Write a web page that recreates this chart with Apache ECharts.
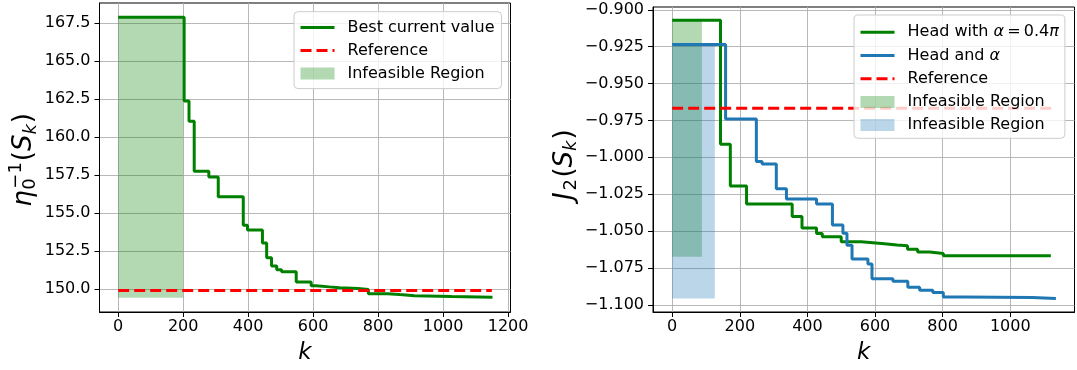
<!DOCTYPE html>
<html><head><meta charset="utf-8">
<script src="https://cdn.jsdelivr.net/npm/echarts@6/dist/echarts.min.js"></script>
<style>html,body{margin:0;padding:0;background:#fff}#c{width:1077px;height:370px}</style>
</head><body><div id="c"></div>
<script>
// ---------------- DATA ----------------
// Left panel: best current value of eta_0^{-1}(S_k)
const leftBestK   = [0, 203, 218, 234, 279, 308, 385, 398, 444, 457, 472, 488, 503, 548, 594, 609, 650, 682, 738, 770, 830, 867, 912, 1026, 1152];
const leftBestVal = [167.88, 162.37, 161.03, 157.74, 157.36, 156.07, 154.19, 153.87, 153.02, 152.05, 151.50, 151.26, 151.12, 150.45, 150.21, 150.13, 150.07, 150.02, 149.95, 149.68, 149.62, 149.55, 149.50, 149.45, 149.45];
const leftRefK = [0, 1150];
const leftRefVal = [149.89, 149.89];
const leftInfK = [0, 200];
const leftInfVal = [149.42, 167.88];
const leftXTicks = [0, 200, 400, 600, 800, 1000, 1200];
const leftYTicks = [150, 152.5, 155, 157.5, 160, 162.5, 165, 167.5];

// Right panel: J_2(S_k)
const rightGreenK   = [0, 143, 172, 220, 355, 384, 427, 444, 500, 559, 620, 665, 696, 726, 761, 802, 1120];
const rightGreenVal = [-0.9071, -0.9912, -1.0195, -1.0317, -1.0401, -1.0479, -1.0517, -1.0539, -1.0573, -1.0585, -1.0595, -1.0600, -1.0624, -1.0642, -1.0652, -1.0668, -1.0672];
const rightBlueK   = [0, 158, 249, 266, 308, 338, 427, 474, 505, 517, 532, 579, 591, 653, 697, 732, 771, 802, 862, 1065, 1135];
const rightBlueVal = [-0.9236, -0.9741, -1.0028, -1.0046, -1.0213, -1.0283, -1.0317, -1.0459, -1.0515, -1.0597, -1.0690, -1.0724, -1.0824, -1.0840, -1.0882, -1.0902, -1.0917, -1.0947, -1.0951, -1.0957, -1.0957];
const rightRefK = [0, 1133];
const rightRefVal = [-0.9667, -0.9667];
const rightGreenInfK = [0, 88];
const rightGreenInfVal = [-1.0675, -0.9071];
const rightBlueInfK = [0, 126];
const rightBlueInfVal = [-1.0957, -0.9236];
const rightXTicks = [0, 200, 400, 600, 800, 1000];
const rightYTicks = [-1.1, -1.075, -1.05, -1.025, -1.0, -0.975, -0.95, -0.925, -0.9];

// ---------------- CHART ----------------
const FONT = 'DejaVu Sans';
const zip = (a, b) => a.map((v, i) => [v, b[i]]);

function rectRender(params, api) {
  const a = api.coord([api.value(0), api.value(2)]);
  const b = api.coord([api.value(1), api.value(3)]);
  return {
    type: 'rect',
    shape: { x: Math.min(a[0], b[0]), y: Math.min(a[1], b[1]), width: Math.abs(b[0] - a[0]), height: Math.abs(b[1] - a[1]) },
    style: { fill: api.visual('color') }
  };
}

function xAxisCfg(gi, min, max, ticks) {
  return {
    type: 'value', gridIndex: gi, min: min, max: max,
    axisLine: { show: true, onZero: false, lineStyle: { color: '#000', width: 1 } },
    axisTick: { show: true, inside: false, length: 5, customValues: ticks, lineStyle: { color: '#000', width: 1 } },
    axisLabel: { show: true, customValues: ticks, margin: 7, fontSize: 16, fontFamily: FONT, color: '#000', formatter: v => String(v) },
    splitLine: { show: true, lineStyle: { color: '#b0b0b0', width: 0.9 } },
    name: 'k', nameLocation: 'middle', nameGap: 30,
    nameTextStyle: { fontSize: 23, fontStyle: 'italic', fontFamily: FONT, color: '#000' }
  };
}
function yAxisCfg(gi, min, max, ticks, fmt) {
  return {
    type: 'value', gridIndex: gi, min: min, max: max,
    axisLine: { show: true, onZero: false, lineStyle: { color: '#000', width: 1 } },
    axisTick: { show: true, inside: false, length: 5, customValues: ticks, lineStyle: { color: '#000', width: 1 } },
    axisLabel: { show: true, customValues: ticks, margin: 9, fontSize: 16, fontFamily: FONT, color: '#000', formatter: fmt },
    splitLine: { show: true, lineStyle: { color: '#b0b0b0', width: 0.9 } }
  };
}

const nameMap = {
  'Reference L': 'Reference', 'Reference R': 'Reference',
  'Infeasible L': 'Infeasible Region', 'Infeasible RG': 'Infeasible Region', 'Infeasible RB': 'Infeasible Region',
  'Head with α = 0.4π': 'Head with {i|α}\u2009=\u20090.4{i|π}',
  'Head and α': 'Head and {i|α}'
};
const legendText = {
  fontSize: 16, fontFamily: FONT, color: '#000', lineHeight: 16, padding: [0, 0, 0, 8],
  rich: { i: { fontSize: 16, fontFamily: FONT, fontStyle: 'italic', color: '#000', lineHeight: 16 } }
};
function legendCfg(left, top, data, gap, pad) {
  return {
    orient: 'vertical', left: left, top: top, itemWidth: 34, itemHeight: 12, itemGap: gap,
    padding: pad, backgroundColor: 'rgba(255,255,255,0.8)', borderColor: '#cccccc', borderWidth: 1, borderRadius: 4,
    selectedMode: false, itemStyle: { opacity: 0 }, lineStyle: { width: 3 }, z: 10,
    textStyle: legendText,
    formatter: n => nameMap[n] || n,
    data: data
  };
}
const fillItem = n => ({ name: n, icon: 'rect', itemStyle: { opacity: 1 } });

function mathPieces(pieces) {
  return pieces.map(p => ({
    type: 'text', x: p.x, y: p.b - 0.346 * p.s,
    style: { text: p.t, fontSize: p.s, fontFamily: FONT, fontStyle: p.it ? 'italic' : 'normal', fill: '#000', align: 'left', verticalAlign: 'middle' }
  }));
}

const F = 26, S = 18;
const leftLabel = {
  type: 'group', x: 33.3, y: 206.7, rotation: Math.PI / 2, silent: true,
  children: mathPieces([
    { t: 'η', s: F, it: true, x: 0, b: 0 },
    { t: '\u22121', s: S, it: false, x: 18, b: -10.3 },
    { t: '0', s: S, it: false, x: 17, b: 3.5 },
    { t: '(', s: F, it: false, x: 45.5, b: 0 },
    { t: 'S', s: F, it: true, x: 55.6, b: 0 },
    { t: 'k', s: S, it: true, x: 72.1, b: 3.8 },
    { t: ')', s: F, it: false, x: 83.5, b: 0 }
  ])
};
const rightLabel = {
  type: 'group', x: 573.9, y: 200, rotation: Math.PI / 2, silent: true,
  children: mathPieces([
    { t: 'J', s: F, it: true, x: 0, b: 0 },
    { t: '2', s: S, it: false, x: 9.5, b: 3.8 },
    { t: '(', s: F, it: false, x: 22.4, b: 0 },
    { t: 'S', s: F, it: true, x: 32.5, b: 0 },
    { t: 'k', s: S, it: true, x: 49, b: 3.8 },
    { t: ')', s: F, it: false, x: 60.4, b: 0 }
  ])
};

const option = {
  animation: false,
  backgroundColor: '#ffffff',
  textStyle: { fontFamily: FONT },
  grid: [
    { left: 99.5, top: 3, width: 411, height: 315, show: true, borderColor: '#000', borderWidth: 1, containLabel: false },
    { left: 653, top: 7, width: 421.5, height: 310, show: true, borderColor: '#000', borderWidth: 1, containLabel: false }
  ],
  xAxis: [
    xAxisCfg(0, -57.5, 1207.5, leftXTicks),
    xAxisCfg(1, -56.7, 1190, rightXTicks)
  ],
  yAxis: [
    yAxisCfg(0, 148.475, 168.825, leftYTicks, v => v.toFixed(1)),
    yAxisCfg(1, -1.1049, -0.8981, rightYTicks, v => (v < 0 ? '\u2212' : '') + Math.abs(v).toFixed(3))
  ],
  legend: [
    legendCfg(294, 11.7, ['Best current value', 'Reference L', fillItem('Infeasible L')], 7, [7.9, 7, 7, 5]),
    legendCfg(854, 15, ['Head with α = 0.4π', 'Head and α', 'Reference R', fillItem('Infeasible RG'), fillItem('Infeasible RB')], 7.2, [9.3, 6, 5.2, 5])
  ],
  graphic: { elements: [leftLabel, rightLabel] },
  series: [
    // left panel
    { type: 'custom', name: 'Infeasible L', xAxisIndex: 0, yAxisIndex: 0, z: 1, silent: true,
      itemStyle: { color: 'rgba(0,128,0,0.3)' }, renderItem: rectRender, encode: { x: [0, 1], y: [2, 3] },
      data: [[leftInfK[0], leftInfK[1], leftInfVal[0], leftInfVal[1]]] },
    { type: 'line', name: 'Best current value', xAxisIndex: 0, yAxisIndex: 0, step: 'end', symbol: 'none', z: 2, silent: true,
      color: '#008000', lineStyle: { color: '#008000', width: 3 }, data: zip(leftBestK, leftBestVal) },
    { type: 'line', name: 'Reference L', xAxisIndex: 0, yAxisIndex: 0, symbol: 'none', z: 2, silent: true,
      color: '#ff0000', lineStyle: { color: '#ff0000', width: 3, type: [11, 5], cap: 'butt' }, data: zip(leftRefK, leftRefVal) },
    // right panel
    { type: 'custom', name: 'Infeasible RG', xAxisIndex: 1, yAxisIndex: 1, z: 1, silent: true,
      itemStyle: { color: 'rgba(0,128,0,0.3)' }, renderItem: rectRender, encode: { x: [0, 1], y: [2, 3] },
      data: [[rightGreenInfK[0], rightGreenInfK[1], rightGreenInfVal[0], rightGreenInfVal[1]]] },
    { type: 'custom', name: 'Infeasible RB', xAxisIndex: 1, yAxisIndex: 1, z: 1, silent: true,
      itemStyle: { color: 'rgba(31,119,180,0.3)' }, renderItem: rectRender, encode: { x: [0, 1], y: [2, 3] },
      data: [[rightBlueInfK[0], rightBlueInfK[1], rightBlueInfVal[0], rightBlueInfVal[1]]] },
    { type: 'line', name: 'Head with α = 0.4π', xAxisIndex: 1, yAxisIndex: 1, step: 'end', symbol: 'none', z: 2, silent: true,
      color: '#008000', lineStyle: { color: '#008000', width: 3 }, data: zip(rightGreenK, rightGreenVal) },
    { type: 'line', name: 'Head and α', xAxisIndex: 1, yAxisIndex: 1, step: 'end', symbol: 'none', z: 2, silent: true,
      color: '#1f77b4', lineStyle: { color: '#1f77b4', width: 3 }, data: zip(rightBlueK, rightBlueVal) },
    { type: 'line', name: 'Reference R', xAxisIndex: 1, yAxisIndex: 1, symbol: 'none', z: 2, silent: true,
      color: '#ff0000', lineStyle: { color: '#ff0000', width: 3, type: [11, 5], cap: 'butt' }, data: zip(rightRefK, rightRefVal) }
  ]
};

const chart = echarts.init(document.getElementById('c'), null, { renderer: 'canvas' });
chart.setOption(option);
</script>
</body></html>
